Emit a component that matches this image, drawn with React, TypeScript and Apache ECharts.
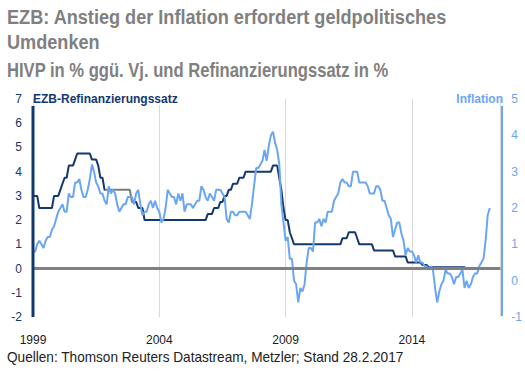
import React, { useEffect, useRef } from "react";
import * as echarts from "echarts";

// Monthly data, Jan 1999 .. Feb 2017 (index 0 = Jan 1999)
const startYear = 1999;
const xTickYears = [1999, 2004, 2009, 2014];

// EZB-Refinanzierungssatz in % (left axis)
const refiRate = [
  3.0, 3.0, 3.0, 2.5, 2.5, 2.5, 2.5, 2.5, 2.5, 2.5, 3.0, 3.0, // 1999
  3.0, 3.25, 3.5, 3.75, 3.75, 4.25, 4.25, 4.25, 4.5, 4.75, 4.75, 4.75, // 2000
  4.75, 4.75, 4.75, 4.75, 4.5, 4.5, 4.5, 4.25, 3.75, 3.75, 3.25, 3.25, // 2001
  3.25, 3.25, 3.25, 3.25, 3.25, 3.25, 3.25, 3.25, 3.25, 3.25, 3.25, 2.75, // 2002
  2.75, 2.75, 2.5, 2.5, 2.5, 2.0, 2.0, 2.0, 2.0, 2.0, 2.0, 2.0, // 2003
  2.0, 2.0, 2.0, 2.0, 2.0, 2.0, 2.0, 2.0, 2.0, 2.0, 2.0, 2.0, // 2004
  2.0, 2.0, 2.0, 2.0, 2.0, 2.0, 2.0, 2.0, 2.0, 2.0, 2.0, 2.25, // 2005
  2.25, 2.25, 2.5, 2.5, 2.5, 2.75, 2.75, 3.0, 3.0, 3.25, 3.25, 3.5, // 2006
  3.5, 3.5, 3.75, 3.75, 3.75, 4.0, 4.0, 4.0, 4.0, 4.0, 4.0, 4.0, // 2007
  4.0, 4.0, 4.0, 4.0, 4.0, 4.0, 4.25, 4.25, 4.25, 3.75, 3.25, 2.5, // 2008
  2.0, 2.0, 1.5, 1.25, 1.0, 1.0, 1.0, 1.0, 1.0, 1.0, 1.0, 1.0, // 2009
  1.0, 1.0, 1.0, 1.0, 1.0, 1.0, 1.0, 1.0, 1.0, 1.0, 1.0, 1.0, // 2010
  1.0, 1.0, 1.0, 1.25, 1.25, 1.25, 1.5, 1.5, 1.5, 1.5, 1.25, 1.0, // 2011
  1.0, 1.0, 1.0, 1.0, 1.0, 1.0, 0.75, 0.75, 0.75, 0.75, 0.75, 0.75, // 2012
  0.75, 0.75, 0.75, 0.75, 0.5, 0.5, 0.5, 0.5, 0.5, 0.5, 0.25, 0.25, // 2013
  0.25, 0.25, 0.25, 0.25, 0.25, 0.15, 0.15, 0.15, 0.05, 0.05, 0.05, 0.05, // 2014
  0.05, 0.05, 0.05, 0.05, 0.05, 0.05, 0.05, 0.05, 0.05, 0.05, 0.05, 0.05, // 2015
  0.05, 0.05, 0.0, 0.0, 0.0, 0.0, 0.0, 0.0, 0.0, 0.0, 0.0, 0.0, // 2016
  0.0, 0.0, // 2017
];

// Inflation (HVPI, % ggü. Vj.) (right axis)
const inflation = [
  0.8, 0.8, 1.0, 1.1, 1.0, 0.9, 1.1, 1.2, 1.2, 1.4, 1.5, 1.7, // 1999
  1.9, 2.0, 2.1, 1.9, 1.9, 2.4, 2.3, 2.3, 2.7, 2.7, 2.8, 2.5, // 2000
  2.3, 2.3, 2.5, 2.8, 3.2, 3.0, 2.7, 2.6, 2.4, 2.4, 2.2, 2.1, // 2001
  2.6, 2.4, 2.5, 2.4, 2.1, 1.9, 2.0, 2.1, 2.1, 2.3, 2.3, 2.3, // 2002
  2.1, 2.4, 2.5, 2.1, 1.8, 1.9, 1.9, 2.1, 2.2, 2.0, 2.2, 2.0, // 2003
  1.9, 1.6, 1.7, 2.0, 2.5, 2.4, 2.3, 2.3, 2.1, 2.4, 2.2, 2.4, // 2004
  1.9, 2.1, 2.1, 2.1, 2.0, 2.1, 2.2, 2.2, 2.6, 2.5, 2.3, 2.2, // 2005
  2.4, 2.3, 2.2, 2.5, 2.5, 2.5, 2.4, 2.3, 1.7, 1.6, 1.9, 1.9, // 2006
  1.8, 1.8, 1.9, 1.9, 1.9, 1.9, 1.8, 1.7, 2.1, 2.6, 3.1, 3.1, // 2007
  3.2, 3.3, 3.6, 3.3, 3.7, 4.0, 4.1, 3.8, 3.6, 3.2, 2.1, 1.6, // 2008
  1.1, 1.2, 0.6, 0.6, 0.0, -0.1, -0.6, -0.2, -0.3, -0.1, 0.5, 0.9, // 2009
  0.9, 0.8, 1.6, 1.6, 1.7, 1.5, 1.7, 1.6, 1.9, 1.9, 1.9, 2.2, // 2010
  2.3, 2.4, 2.7, 2.8, 2.7, 2.7, 2.6, 2.6, 3.0, 3.0, 3.0, 2.7, // 2011
  2.7, 2.7, 2.7, 2.6, 2.4, 2.4, 2.4, 2.6, 2.6, 2.5, 2.2, 2.2, // 2012
  2.0, 1.8, 1.7, 1.2, 1.4, 1.6, 1.6, 1.3, 1.1, 0.7, 0.9, 0.8, // 2013
  0.8, 0.7, 0.5, 0.7, 0.5, 0.5, 0.4, 0.4, 0.3, 0.4, 0.3, -0.2, // 2014
  -0.6, -0.3, -0.1, 0.0, 0.3, 0.2, 0.2, 0.1, -0.1, 0.1, 0.1, 0.2, // 2015
  0.3, -0.2, 0.0, -0.2, -0.1, 0.1, 0.2, 0.2, 0.4, 0.5, 0.6, 1.1, // 2016
  1.8, 2.0, // 2017
];

const titleLine1 = "EZB: Anstieg der Inflation erfordert geldpolitisches";
const titleLine2 = "Umdenken";
const subtitle = "HIVP in % ggü. Vj. und Refinanzierungssatz in %";
const leftAxisName = "EZB-Refinanzierungssatz";
const rightAxisName = "Inflation";
const footnote = "Quellen: Thomson Reuters Datastream, Metzler; Stand 28.2.2017";

const NAVY = "#12386f";
const LIGHT = "#6ba6f2";
const GREY = "#808080";

function measure(text: string, font: string): number {
  const c = document.createElement("canvas").getContext("2d");
  if (!c) return 1;
  c.font = font;
  return c.measureText(text).width || 1;
}

export default function App() {
  const ref = useRef<HTMLDivElement>(null);

  useEffect(() => {
    if (!ref.current) return;
    const chart = echarts.init(ref.current, null, { renderer: "svg" });

    const titleFont =
      'bold 21px "Liberation Sans Narrow", "Liberation Sans", Arial, sans-serif';
    const subFont =
      'bold 20px "Liberation Sans Narrow", "Liberation Sans", Arial, sans-serif';
    const footFont = '14px "Liberation Sans", Arial, sans-serif';
    const tScale = 440 / measure(titleLine1, titleFont);
    const sScale = 382 / measure(subtitle, subFont);
    const fScale = 397 / measure(footnote, footFont);

    const refiData = refiRate.map((v, i) => [i, v]);
    const inflData = inflation.map((v, i) => [i, v]);

    const option: any = {
      animation: false,
      grid: { left: 33, right: 23, top: 99, bottom: 59, containLabel: false },
      xAxis: {
        type: "value",
        min: 0,
        max: 222,
        interval: 60,
        axisLine: { show: false },
        axisTick: { show: false },
        splitLine: { show: true, lineStyle: { color: "#d9d9d9", width: 1 } },
        axisLabel: {
          showMaxLabel: false,
          margin: 17,
          fontSize: 12,
          color: "#1a1a1a",
          fontFamily: '"Liberation Sans", Arial, sans-serif',
          formatter: (v: number) => {
            const y = startYear + Math.round(v / 12);
            return xTickYears.includes(y) && v % 60 === 0 ? String(y) : "";
          },
        },
      },
      yAxis: [
        {
          type: "value",
          position: "left",
          min: -2,
          max: 7,
          interval: 1,
          axisLine: { show: false },
          axisTick: { show: false },
          splitLine: { show: false },
          axisLabel: {
            margin: 11,
            fontSize: 12,
            color: NAVY,
            fontFamily: '"Liberation Sans", Arial, sans-serif',
          },
        },
        {
          type: "value",
          position: "right",
          min: -1,
          max: 5,
          interval: 1,
          axisLine: { show: false },
          axisTick: { show: false },
          splitLine: { show: false },
          axisLabel: {
            margin: 11,
            fontSize: 12,
            color: LIGHT,
            fontFamily: '"Liberation Sans", Arial, sans-serif',
          },
        },
      ],
      visualMap: [
        {
          type: "piecewise",
          show: false,
          seriesIndex: 1,
          dimension: 0,
          pieces: [
            { lt: 34, color: NAVY },
            { gte: 34, lte: 47, color: "#7a7a7a" },
            { gt: 47, color: NAVY },
          ],
        },
      ],
      series: [
        {
          type: "line",
          yAxisIndex: 0,
          data: [],
          z: 1,
          silent: true,
          markLine: {
            silent: true,
            symbol: "none",
            label: { show: false },
            lineStyle: { color: GREY, width: 3, type: "solid" },
            data: [{ yAxis: 0 }],
          },
        },
        {
          name: leftAxisName,
          type: "line",
          yAxisIndex: 0,
          data: refiData,
          showSymbol: false,
          z: 3,
          lineStyle: { width: 2 },
        },
        {
          name: rightAxisName,
          type: "line",
          yAxisIndex: 1,
          data: inflData,
          showSymbol: false,
          z: 4,
          lineStyle: { color: LIGHT, width: 2 },
          itemStyle: { color: LIGHT },
        },
      ],
      graphic: [
        {
          type: "text",
          x: 7,
          y: 16.7,
          scaleX: tScale,
          style: { text: titleLine1, font: titleFont, fill: GREY, align: "left", verticalAlign: "middle" },
        },
        {
          type: "text",
          x: 7,
          y: 42,
          scaleX: tScale,
          style: { text: titleLine2, font: titleFont, fill: GREY, align: "left", verticalAlign: "middle" },
        },
        {
          type: "text",
          x: 7,
          y: 69.5,
          scaleX: sScale,
          style: { text: subtitle, font: subFont, fill: GREY, align: "left", verticalAlign: "middle" },
        },
        {
          type: "text",
          x: 7,
          y: 357,
          scaleX: fScale,
          style: { text: footnote, font: footFont, fill: "#222222", align: "left", verticalAlign: "middle" },
        },
        {
          type: "rect",
          z: 90,
          shape: { x: 34, y: 92, width: 150, height: 13 },
          style: { fill: "#ffffff" },
        },
        {
          type: "text",
          z: 100,
          x: 33,
          y: 99,
          style: {
            text: leftAxisName,
            font: 'bold 12px "Liberation Sans", Arial, sans-serif',
            fill: NAVY,
            align: "left",
            verticalAlign: "middle",
          },
        },
        {
          type: "text",
          z: 100,
          x: 503,
          y: 99,
          style: {
            text: rightAxisName,
            font: 'bold 12px "Liberation Sans", Arial, sans-serif',
            fill: LIGHT,
            align: "right",
            verticalAlign: "middle",
          },
        },
        {
          type: "line",
          z: 100,
          shape: { x1: 33, y1: 106, x2: 33, y2: 317 },
          style: { stroke: NAVY, lineWidth: 3 },
        },
        {
          type: "line",
          z: 100,
          shape: { x1: 502, y1: 106, x2: 502, y2: 316 },
          style: { stroke: LIGHT, lineWidth: 2 },
        },
      ],
    };

    chart.setOption(option);
    return () => chart.dispose();
  }, []);

  return (
    <div
      ref={ref}
      style={{ position: "absolute", left: 0, top: 0, width: 525, height: 376, background: "#fff" }}
    />
  );
}
